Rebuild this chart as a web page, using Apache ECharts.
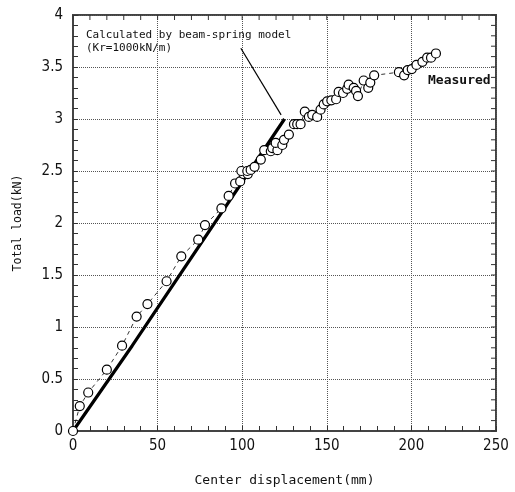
<!DOCTYPE html>
<html>
<head>
<meta charset="utf-8">
<script src="https://cdn.jsdelivr.net/npm/echarts@6/dist/echarts.min.js"></script>
<style>
  html, body { margin: 0; padding: 0; background: #fff; }
  #main { width: 515px; height: 492px; }
</style>
</head>
<body>
<div id="main"></div>
<script>
// 実測値 (center displacement mm, total load kN)
const measured = [
  [0, 0], [4, 0.24], [9, 0.37], [20, 0.59], [29, 0.82], [37.6, 1.1], [44, 1.22],
  [55.3, 1.44], [64, 1.68], [74, 1.84], [78, 1.98], [87.7, 2.14], [92, 2.26],
  [95.8, 2.38], [98.8, 2.4], [100.8, 2.47], [103.3, 2.47], [99.5, 2.5], [103, 2.5],
  [105, 2.51], [107.3, 2.54], [111, 2.61], [113, 2.7], [116.9, 2.69], [117.8, 2.72],
  [120.8, 2.7], [119.8, 2.77], [123.7, 2.75], [124.7, 2.8], [127.6, 2.85],
  [130.6, 2.95], [132.5, 2.95], [134.5, 2.95], [137, 3.07], [139.4, 3.02],
  [141.4, 3.04], [144.3, 3.02], [146.3, 3.09], [148.2, 3.14], [150.2, 3.17],
  [152.7, 3.18], [155.5, 3.19], [157, 3.26], [159.6, 3.25], [162, 3.29],
  [162.9, 3.33], [165.9, 3.3], [167.3, 3.27], [168.4, 3.22], [171.8, 3.37],
  [174.5, 3.3], [175.7, 3.35], [178, 3.42], [192.6, 3.45], [195.7, 3.42],
  [197.8, 3.47], [200.2, 3.48], [203, 3.52], [206.5, 3.55], [209.3, 3.59],
  [211.6, 3.59], [214.5, 3.63]
];
// beam-spring model
const calculated = [[0, 0], [35, 0.82], [125, 3.0]];
// 矢印 (text -> line end)
const arrowFrom = [99.2, 3.68];
const arrowTo = [123, 3.04];

const xRange = [0, 250];
const yRange = [0, 4];
// 上辺・右辺の目盛り
const topTicks = [0, 10, 20, 30, 40, 50, 60, 70, 80, 90, 100, 110, 120, 130, 140, 150,
  160, 170, 180, 190, 200, 210, 220, 230, 240, 250];
const rightTicks = [0, 0.1, 0.2, 0.3, 0.4, 0.5, 0.6, 0.7, 0.8, 0.9, 1, 1.1, 1.2, 1.3, 1.4,
  1.5, 1.6, 1.7, 1.8, 1.9, 2, 2.1, 2.2, 2.3, 2.4, 2.5, 2.6, 2.7, 2.8, 2.9, 3, 3.1, 3.2,
  3.3, 3.4, 3.5, 3.6, 3.7, 3.8, 3.9, 4];

const monoFont = '"DejaVu Sans Mono", "Liberation Mono", monospace';
const labelFont = '"DejaVu Sans Condensed", "DejaVu Sans", sans-serif';
const tickColor = '#333';

const chart = echarts.init(document.getElementById('main'));

const option = {
  backgroundColor: '#fff',
  animation: false,
  grid: { left: 73, right: 19, top: 15, bottom: 60, show: true, borderColor: '#444', borderWidth: 2 },
  xAxis: {
    type: 'value', min: xRange[0], max: xRange[1], interval: 50,
    name: 'Center displacement(mm)', nameLocation: 'middle', nameGap: 43,
    nameTextStyle: { fontFamily: monoFont, fontSize: 13, color: '#111' },
    axisLine: { show: true, onZero: false, lineStyle: { color: '#444', width: 2 } },
    axisTick: { show: true, inside: true, length: 5, lineStyle: { color: tickColor, width: 1 } },
    minorTick: { show: true, splitNumber: 5, length: 5, lineStyle: { color: tickColor, width: 1 } },
    axisLabel: { fontFamily: labelFont, fontSize: 15, color: '#111', margin: 8 },
    splitLine: { show: true, lineStyle: { type: 'dotted', color: '#555', width: 1 } }
  },
  yAxis: {
    type: 'value', min: yRange[0], max: yRange[1], interval: 0.5,
    name: 'Total load(kN)', nameLocation: 'middle', nameGap: 49,
    nameTextStyle: { fontFamily: monoFont, fontSize: 11.5, color: '#111' },
    axisLine: { show: true, onZero: false, lineStyle: { color: '#444', width: 2 } },
    axisTick: { show: true, inside: true, length: 5, lineStyle: { color: tickColor, width: 1 } },
    minorTick: { show: true, splitNumber: 5, length: 5, lineStyle: { color: tickColor, width: 1 } },
    axisLabel: { fontFamily: labelFont, fontSize: 15, color: '#111', margin: 10 },
    splitLine: { show: true, lineStyle: { type: 'dotted', color: '#555', width: 1 } }
  },
  graphic: [
    {
      type: 'text', left: 86, top: 29,
      style: { text: 'Calculated by beam-spring model\n(Kr=1000kN/m)', fontFamily: monoFont,
        fontSize: 11, lineHeight: 13, fill: '#111' }
    },
    {
      type: 'text', left: 428, top: 74,
      style: { text: 'Measured', fontFamily: monoFont, fontSize: 13, fontWeight: 'bold', fill: '#111' }
    }
  ],
  series: [
    {
      name: 'topTicks',
      type: 'custom',
      silent: true,
      data: topTicks.map(v => [v]),
      encode: { x: 0 },
      renderItem: function (params, api) {
        const p = api.coord([api.value(0), yRange[1]]);
        return { type: 'line', shape: { x1: p[0], y1: p[1], x2: p[0], y2: p[1] + 5 },
          style: { stroke: tickColor, lineWidth: 1 } };
      },
      z: 1
    },
    {
      name: 'rightTicks',
      type: 'custom',
      silent: true,
      data: rightTicks.map(v => [v]),
      encode: { y: 0 },
      renderItem: function (params, api) {
        const p = api.coord([xRange[1], api.value(0)]);
        return { type: 'line', shape: { x1: p[0], y1: p[1], x2: p[0] - 5, y2: p[1] },
          style: { stroke: tickColor, lineWidth: 1 } };
      },
      z: 1
    },
    {
      name: 'Calculated',
      type: 'line',
      data: calculated,
      symbol: 'none',
      lineStyle: { color: '#000', width: 3.2 },
      z: 2,
      markLine: {
        silent: true,
        symbol: ['none', 'arrow'],
        symbolSize: [0, 10],
        label: { show: false },
        lineStyle: { color: '#000', width: 1.2, type: 'solid' },
        data: [[{ coord: arrowFrom }, { coord: arrowTo }]]
      }
    },
    {
      name: 'Measured',
      type: 'line',
      data: measured,
      symbol: 'circle',
      symbolSize: 9,
      showAllSymbol: true,
      lineStyle: { color: '#000', width: 0.8, type: [4, 4] },
      itemStyle: { color: '#fff', borderColor: '#000', borderWidth: 1.2 },
      z: 3
    }
  ]
};

chart.setOption(option);
</script>
</body>
</html>
